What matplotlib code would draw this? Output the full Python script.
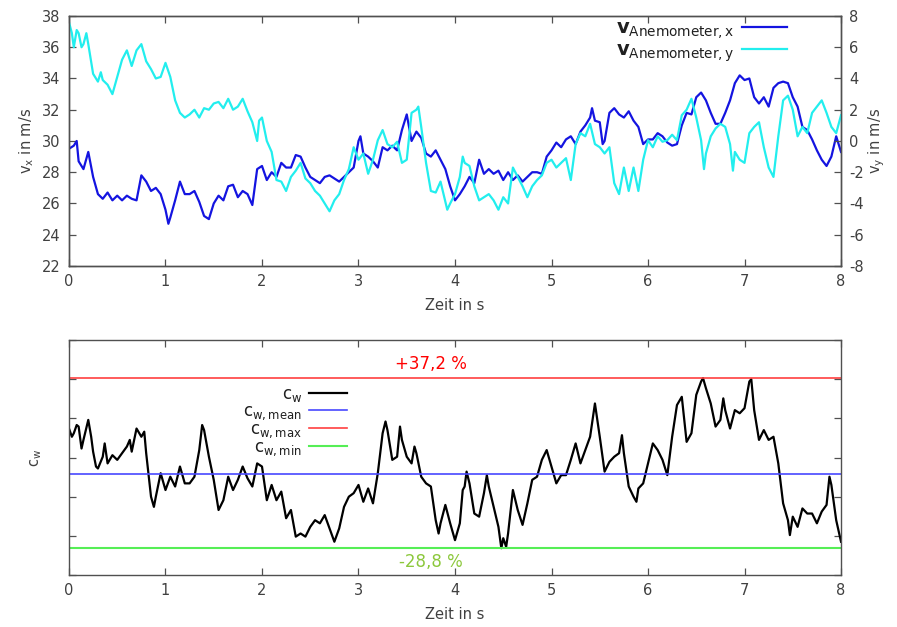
import matplotlib
matplotlib.use("Agg")
import matplotlib.pyplot as plt
import numpy as np

plt.rcParams['font.family'] = ['DejaVu Sans']
plt.rcParams['mathtext.fontset'] = 'dejavusans'
plt.rcParams['axes.unicode_minus'] = False

# --- anemometer velocity components (time in s, velocity in m/s) ---
t_vx = [0, 0.05, 0.08, 0.1, 0.15, 0.2, 0.25, 0.3, 0.35, 0.4, 0.45, 0.5, 0.55, 0.6, 0.65, 0.7,
        0.75, 0.8, 0.85, 0.9, 0.95, 1.0, 1.03, 1.05, 1.1, 1.15, 1.2, 1.25, 1.3, 1.35, 1.4, 1.45,
        1.5, 1.55, 1.6, 1.65, 1.7, 1.75, 1.8, 1.85, 1.9, 1.95, 2.0, 2.05, 2.1, 2.15, 2.2, 2.25,
        2.3, 2.35, 2.4, 2.45, 2.5, 2.55, 2.6, 2.65, 2.7, 2.75, 2.8, 2.85, 2.9, 2.95, 3.0, 3.02,
        3.05, 3.1, 3.15, 3.2, 3.25, 3.3, 3.35, 3.4, 3.45, 3.5, 3.55, 3.6, 3.65, 3.7, 3.75, 3.8,
        3.85, 3.9, 3.95, 4.0, 4.05, 4.1, 4.15, 4.2, 4.25, 4.3, 4.35, 4.4, 4.45, 4.5, 4.55, 4.6,
        4.65, 4.7, 4.75, 4.8, 4.85, 4.9, 4.95, 5.0, 5.05, 5.1, 5.15, 5.2, 5.25, 5.3, 5.35, 5.4,
        5.42, 5.45, 5.5, 5.53, 5.55, 5.6, 5.65, 5.7, 5.75, 5.8, 5.85, 5.9, 5.95, 6.0, 6.05, 6.1,
        6.15, 6.2, 6.25, 6.3, 6.35, 6.4, 6.45, 6.5, 6.55, 6.6, 6.65, 6.7, 6.75, 6.8, 6.85, 6.9,
        6.95, 7.0, 7.05, 7.1, 7.15, 7.2, 7.25, 7.3, 7.35, 7.4, 7.45, 7.5, 7.55, 7.6, 7.65, 7.7,
        7.75, 7.8, 7.85, 7.9, 7.95, 8.0]
vx = [29.5, 29.7, 30.0, 28.7, 28.2, 29.3, 27.7, 26.6, 26.3, 26.7, 26.2, 26.5, 26.2, 26.5, 26.3, 26.2,
      27.8, 27.4, 26.8, 27.0, 26.6, 25.6, 24.7, 25.1, 26.2, 27.4, 26.6, 26.6, 26.8, 26.1, 25.2, 25.0,
      26.0, 26.5, 26.2, 27.1, 27.2, 26.4, 26.8, 26.6, 25.9, 28.2, 28.4, 27.5, 28.0, 27.7, 28.6, 28.3,
      28.3, 29.1, 29.0, 28.3, 27.7, 27.5, 27.3, 27.7, 27.8, 27.6, 27.4, 27.7, 28.0, 28.3, 30.0, 30.3,
      29.2, 29.0, 28.7, 28.3, 29.6, 29.4, 29.7, 29.4, 30.7, 31.7, 30.0, 30.6, 30.2, 29.2, 29.0, 29.4,
      28.8, 28.2, 27.1, 26.2, 26.6, 27.1, 27.7, 27.3, 28.8, 27.9, 28.2, 27.9, 28.1, 27.5, 28.0, 27.5,
      27.8, 27.4, 27.7, 28.0, 28.0, 27.9, 29.0, 29.4, 29.9, 29.6, 30.1, 30.3, 29.8, 30.6, 31.0, 31.5,
      32.1, 31.3, 31.2, 29.8, 30.0, 31.8, 32.1, 31.7, 31.5, 31.9, 31.3, 30.9, 29.8, 30.1, 30.1, 30.5,
      30.3, 29.9, 29.7, 29.8, 31.0, 31.8, 31.7, 32.8, 33.1, 32.6, 31.8, 31.1, 31.1, 31.8, 32.6, 33.7,
      34.2, 33.9, 34.0, 32.8, 32.4, 32.8, 32.2, 33.4, 33.7, 33.8, 33.7, 32.8, 32.2, 30.9, 30.7, 30.1,
      29.4, 28.8, 28.4, 29.0, 30.3, 29.3]

t_vy = [0, 0.03, 0.05, 0.08, 0.1, 0.13, 0.15, 0.18, 0.2, 0.25, 0.3, 0.33, 0.35, 0.4, 0.45, 0.5,
        0.55, 0.6, 0.65, 0.7, 0.75, 0.8, 0.85, 0.9, 0.95, 1.0, 1.05, 1.1, 1.15, 1.2, 1.25, 1.3,
        1.35, 1.4, 1.45, 1.5, 1.55, 1.6, 1.65, 1.7, 1.75, 1.8, 1.85, 1.9, 1.95, 1.97, 2.0, 2.05,
        2.1, 2.15, 2.2, 2.25, 2.3, 2.35, 2.4, 2.45, 2.5, 2.55, 2.6, 2.65, 2.7, 2.75, 2.8, 2.85,
        2.9, 2.95, 3.0, 3.05, 3.1, 3.15, 3.2, 3.25, 3.3, 3.35, 3.4, 3.45, 3.5, 3.55, 3.6, 3.62,
        3.65, 3.7, 3.75, 3.8, 3.85, 3.92, 3.95, 4.0, 4.05, 4.08, 4.1, 4.15, 4.2, 4.25, 4.3, 4.35,
        4.4, 4.45, 4.5, 4.55, 4.6, 4.65, 4.7, 4.75, 4.8, 4.85, 4.9, 4.95, 5.0, 5.05, 5.1, 5.15,
        5.2, 5.25, 5.3, 5.35, 5.4, 5.45, 5.5, 5.55, 5.6, 5.65, 5.7, 5.75, 5.8, 5.85, 5.9, 5.95,
        6.0, 6.05, 6.1, 6.15, 6.2, 6.25, 6.3, 6.35, 6.4, 6.45, 6.5, 6.55, 6.58, 6.6, 6.65, 6.7,
        6.75, 6.8, 6.85, 6.88, 6.9, 6.95, 7.0, 7.05, 7.1, 7.15, 7.2, 7.25, 7.3, 7.35, 7.4, 7.45,
        7.5, 7.55, 7.6, 7.65, 7.7, 7.75, 7.8, 7.85, 7.9, 7.95, 8.0]
vy = [7.6, 6.9, 6.0, 7.1, 6.9, 6.0, 6.2, 6.9, 6.2, 4.3, 3.8, 4.4, 3.9, 3.6, 3.0, 4.1,
      5.2, 5.8, 4.8, 5.8, 6.2, 5.1, 4.6, 4.0, 4.1, 5.0, 4.1, 2.6, 1.8, 1.5, 1.7, 2.0,
      1.5, 2.1, 2.0, 2.4, 2.5, 2.1, 2.7, 2.0, 2.2, 2.7, 1.9, 1.2, 0.0, 1.3, 1.5, 0.0,
      -0.7, -2.5, -2.6, -3.2, -2.3, -1.9, -1.4, -2.4, -2.7, -3.2, -3.5, -4.0, -4.5, -3.8, -3.4, -2.5,
      -1.8, -0.4, -1.2, -0.8, -2.1, -1.2, 0.05, 0.7, -0.2, -0.4, -0.05, -1.4, -1.2, 1.8, 2.0, 2.2,
      0.9, -1.4, -3.2, -3.3, -2.6, -4.4, -4.0, -3.4, -2.3, -1.0, -1.4, -1.6, -2.9, -3.8, -3.6, -3.4,
      -3.8, -4.4, -3.6, -4.0, -1.7, -2.3, -2.9, -3.6, -2.9, -2.5, -2.2, -1.4, -1.2, -1.7, -1.4, -1.1,
      -2.5, -0.2, 0.5, 0.3, 1.1, -0.2, -0.4, -0.8, -0.4, -2.7, -3.4, -1.7, -3.2, -1.7, -3.2, -1.2,
      0.05, -0.4, 0.3, -0.05, 0.05, 0.4, 0.05, 1.65, 2.0, 2.7, 1.5, 0.05, -1.8, -0.8, 0.3, 0.8,
      1.1, 0.9, -0.2, -1.9, -0.7, -1.2, -1.4, 0.5, 0.9, 1.2, -0.4, -1.7, -2.3, 0.3, 2.6, 2.9,
      2.0, 0.3, 0.9, 0.5, 1.8, 2.2, 2.6, 1.8, 0.9, 0.5, 1.65]

# --- drag coefficient ---
t_cw = [0, 0.03, 0.05, 0.08, 0.1, 0.13, 0.15, 0.2, 0.23, 0.25, 0.28, 0.3, 0.35, 0.37, 0.4, 0.45,
        0.5, 0.55, 0.6, 0.63, 0.65, 0.7, 0.75, 0.78, 0.8, 0.85, 0.88, 0.9, 0.95, 1.0, 1.05, 1.1,
        1.15, 1.2, 1.25, 1.3, 1.35, 1.38, 1.4, 1.45, 1.5, 1.55, 1.6, 1.65, 1.7, 1.75, 1.8, 1.85,
        1.9, 1.95, 2.0, 2.05, 2.1, 2.15, 2.2, 2.25, 2.3, 2.35, 2.4, 2.45, 2.5, 2.55, 2.6, 2.65,
        2.7, 2.75, 2.8, 2.85, 2.9, 2.95, 3.0, 3.05, 3.1, 3.15, 3.2, 3.25, 3.28, 3.3, 3.35, 3.4,
        3.43, 3.45, 3.5, 3.55, 3.58, 3.6, 3.65, 3.7, 3.75, 3.8, 3.83, 3.85, 3.9, 3.95, 4.0, 4.05,
        4.08, 4.1, 4.12, 4.15, 4.2, 4.25, 4.3, 4.33, 4.35, 4.4, 4.45, 4.48, 4.5, 4.53, 4.55, 4.6,
        4.65, 4.7, 4.75, 4.8, 4.85, 4.9, 4.95, 5.0, 5.05, 5.1, 5.15, 5.2, 5.25, 5.3, 5.35, 5.4,
        5.45, 5.5, 5.55, 5.6, 5.65, 5.7, 5.73, 5.75, 5.8, 5.85, 5.88, 5.9, 5.95, 6.0, 6.05, 6.1,
        6.15, 6.2, 6.25, 6.3, 6.35, 6.4, 6.45, 6.5, 6.55, 6.57, 6.6, 6.65, 6.7, 6.75, 6.78, 6.8,
        6.85, 6.9, 6.95, 7.0, 7.05, 7.07, 7.1, 7.15, 7.2, 7.25, 7.3, 7.35, 7.4, 7.45, 7.47, 7.5,
        7.55, 7.6, 7.65, 7.7, 7.75, 7.8, 7.85, 7.88, 7.9, 7.95, 8.0]
cw = [0.774, 0.753, 0.762, 0.783, 0.779, 0.723, 0.745, 0.796, 0.753, 0.715, 0.677, 0.672, 0.702, 0.736, 0.685, 0.706,
      0.694, 0.711, 0.728, 0.745, 0.715, 0.774, 0.753, 0.766, 0.711, 0.600, 0.574, 0.600, 0.660, 0.617, 0.651, 0.626,
      0.677, 0.634, 0.634, 0.651, 0.719, 0.783, 0.770, 0.702, 0.643, 0.566, 0.591, 0.651, 0.617, 0.643, 0.677, 0.647,
      0.626, 0.685, 0.677, 0.591, 0.630, 0.591, 0.613, 0.545, 0.566, 0.498, 0.506, 0.498, 0.523, 0.540, 0.532, 0.553,
      0.519, 0.485, 0.519, 0.574, 0.600, 0.609, 0.630, 0.587, 0.621, 0.583, 0.660, 0.762, 0.792, 0.770, 0.694, 0.702,
      0.779, 0.745, 0.702, 0.685, 0.728, 0.711, 0.651, 0.634, 0.626, 0.540, 0.506, 0.532, 0.579, 0.532, 0.489, 0.532,
      0.617, 0.626, 0.664, 0.634, 0.557, 0.549, 0.609, 0.655, 0.626, 0.574, 0.523, 0.4685, 0.494, 0.472, 0.506, 0.617,
      0.566, 0.528, 0.583, 0.643, 0.651, 0.694, 0.719, 0.677, 0.634, 0.655, 0.655, 0.694, 0.736, 0.685, 0.719, 0.753,
      0.838, 0.753, 0.664, 0.689, 0.702, 0.711, 0.757, 0.711, 0.626, 0.600, 0.587, 0.621, 0.634, 0.685, 0.736, 0.719,
      0.694, 0.655, 0.753, 0.834, 0.855, 0.740, 0.762, 0.860, 0.894, 0.9028, 0.877, 0.838, 0.779, 0.796, 0.851, 0.821,
      0.774, 0.821, 0.813, 0.826, 0.894, 0.900, 0.821, 0.745, 0.770, 0.745, 0.753, 0.685, 0.583, 0.540, 0.502, 0.549,
      0.523, 0.570, 0.557, 0.557, 0.532, 0.562, 0.579, 0.651, 0.630, 0.540, 0.485]

cw_mean = 0.658
cw_max_pct = 37.2
cw_min_pct = -28.8

x_ticks = [0, 1, 2, 3, 4, 5, 6, 7, 8]
vx_ticks = [22, 24, 26, 28, 30, 32, 34, 36, 38]
vy_ticks = [-8, -6, -4, -2, 0, 2, 4, 6, 8]

text_col = '#404040'
spine_col = '#505050'
fs = 10.5

fig = plt.figure(figsize=(8.97, 6.27), dpi=100)
ax1 = fig.add_axes([0.0769, 0.5758, 0.8607, 0.3987])
ax1b = ax1.twinx()
ax2 = fig.add_axes([0.0769, 0.0829, 0.8607, 0.3748])


def style_axis(ax):
    for s in ax.spines.values():
        s.set_color(spine_col)
        s.set_linewidth(1.0)
    ax.tick_params(direction='in', length=5, width=0.9, color=spine_col,
                   labelcolor=text_col, labelsize=fs, pad=6)


# upper panel
l1, = ax1.plot(t_vx, vx, color='#1414e0', lw=1.6)
l2, = ax1b.plot(t_vy, vy, color='#22eeee', lw=1.6)
ax1.set_xlim(0, 8)
ax1.set_ylim(22, 38)
ax1b.set_ylim(-8, 8)
ax1.set_xticks(x_ticks)
ax1.set_yticks(vx_ticks)
ax1b.set_yticks(vy_ticks)
for a in (ax1, ax1b):
    style_axis(a)
ax1.tick_params(axis='x', top=True)
ax1.set_xlabel('Zeit in s', color=text_col, fontsize=fs, labelpad=6)
ax1.set_ylabel(r'$\mathrm{v}_\mathrm{x}$ in m/s', color=text_col, fontsize=fs, labelpad=4)
ax1b.set_ylabel(r'$\mathrm{v}_\mathrm{y}$ in m/s', color=text_col, fontsize=fs, labelpad=2)
leg1 = ax1.legend([l1, l2],
                  [r'$\mathbf{v}_{\mathrm{Anemometer,x}}$', r'$\mathbf{v}_{\mathrm{Anemometer,y}}$'],
                  loc='upper right', bbox_to_anchor=(0.930, 0.99), frameon=False,
                  markerfirst=False, fontsize=14, handlelength=2.3, labelspacing=0.0,
                  handletextpad=0.4, borderaxespad=0.0, borderpad=0.0)
for t in leg1.get_texts():
    t.set_color('#202020')

# lower panel
c_red = '#ff4040'
c_blue = '#4848ff'
c_green = '#55ee55'
lcw, = ax2.plot(t_cw, cw, color='black', lw=1.6)
lmean = ax2.axhline(cw_mean, color=c_blue, lw=1.2)
cw_max_line = cw_mean * (1 + cw_max_pct / 100)
cw_min_line = cw_mean * (1 + cw_min_pct / 100)
lmax = ax2.axhline(cw_max_line, color=c_red, lw=1.2)
lmin = ax2.axhline(cw_min_line, color=c_green, lw=1.5)
ax2.set_xlim(0, 8)
ax2.set_ylim(0.4, 1.0)
ax2.set_xticks(x_ticks)
ax2.set_yticks(np.linspace(0.4, 1.0, 7))
ax2.set_yticklabels([])
style_axis(ax2)
ax2.tick_params(axis='x', top=True)
ax2.tick_params(axis='y', right=True)
ax2.set_xlabel('Zeit in s', color=text_col, fontsize=fs, labelpad=6)
ax2.set_ylabel(r'$\mathrm{c}_\mathrm{w}$', color=text_col, fontsize=fs, labelpad=12)

ax2.text(3.75, cw_max_line + 0.012, f'+{cw_max_pct:.1f} %'.replace('.', ','),
         color='#ff0000', fontsize=12, ha='center', va='bottom')
ax2.text(3.75, cw_min_line - 0.012, f'{cw_min_pct:.1f} %'.replace('.', ','),
         color='#8cc83c', fontsize=12, ha='center', va='top')

leg2 = ax2.legend([lcw, lmean, lmax, lmin],
                  [r'$\mathrm{c}_\mathrm{w}$', r'$\mathrm{c}_\mathrm{w,mean}$',
                   r'$\mathrm{c}_\mathrm{w,max}$', r'$\mathrm{c}_\mathrm{w,min}$'],
                  loc='upper right', bbox_to_anchor=(0.360, 0.81), frameon=False,
                  markerfirst=False, fontsize=12, handlelength=2.3, labelspacing=-0.12,
                  handletextpad=0.4, borderaxespad=0.0, borderpad=0.0)
for t in leg2.get_texts():
    t.set_color('#202020')

fig.savefig('out.png', dpi=100)
